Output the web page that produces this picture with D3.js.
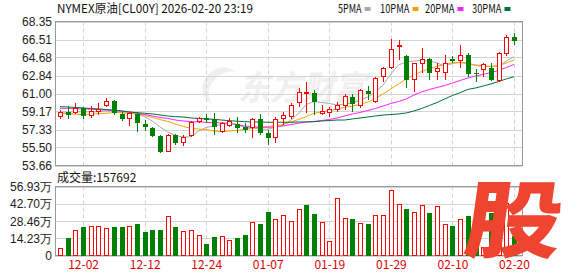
<!DOCTYPE html>
<html>
<head>
<meta charset="utf-8">
<script src="https://cdn.jsdelivr.net/npm/d3@7"></script>
<style>
  body { margin: 0; background: #fff; }
  svg { display: block; }
  text { font-family: "Liberation Sans", Arial, sans-serif; }
  .cjk { font-family: "SimSun", "Noto Sans CJK SC", sans-serif; }
</style>
</head>
<body>
<svg id="chart" width="578" height="276"></svg>
<script>
// trading days shown
const dates = ["11-26","11-28","12-01","12-02","12-03","12-04","12-05","12-08","12-09","12-10",
  "12-11","12-12","12-15","12-16","12-17","12-18","12-19","12-22","12-23","12-24",
  "12-26","12-29","12-30","12-31","01-02","01-05","01-06","01-07","01-08","01-09",
  "01-12","01-13","01-14","01-15","01-16","01-19","01-20","01-21","01-22","01-23",
  "01-26","01-27","01-28","01-29","01-30","02-02","02-03","02-04","02-05","02-06",
  "02-09","02-10","02-11","02-12","02-13","02-16","02-17","02-18","02-19","02-20"];

const open = [58.64,59.15,59.09,59.50,58.81,59.12,59.80,60.27,58.92,58.44,
  58.92,57.89,57.46,56.67,55.07,56.77,55.99,56.74,58.13,58.48,
  58.37,57.11,57.79,57.89,57.56,57.56,58.37,57.01,56.54,58.48,
  58.64,60.11,61.09,61.03,58.99,59.05,59.39,59.73,60.68,59.73,
  61.26,60.17,62.72,63.68,65.76,64.83,62.46,64.02,64.50,63.23,
  63.13,64.50,64.35,64.93,63.13,63.48,63.58,62.31,65.04,66.74];
const high = [59.32,59.73,60.01,59.66,59.73,60.01,60.52,60.34,59.09,59.09,
  59.15,58.30,57.62,56.77,56.87,56.87,56.77,58.20,58.64,58.91,
  58.99,58.13,58.48,58.64,57.97,58.48,58.91,57.28,58.64,59.15,
  60.01,61.54,62.21,61.36,59.83,59.60,60.17,60.96,60.96,61.44,
  61.77,62.72,63.68,66.54,66.47,64.93,64.15,65.62,64.60,64.09,
  64.93,64.83,65.93,65.10,63.48,64.09,64.09,65.27,66.97,67.15];
const low = [58.37,58.37,58.88,58.40,58.48,58.81,59.66,58.81,58.23,57.72,
  57.11,57.18,56.54,54.97,55.04,55.75,55.68,56.60,57.97,57.97,
  56.74,56.95,57.62,56.95,56.95,56.44,56.77,55.75,55.99,57.79,
  58.37,59.66,58.99,58.81,58.81,58.64,59.15,59.32,59.15,59.50,
  60.34,60.07,62.21,63.48,64.42,61.54,61.19,63.07,62.38,62.38,
  62.38,64.09,63.58,62.72,62.21,62.72,62.31,62.21,64.83,65.96];
const close = [59.09,58.78,59.43,58.74,59.15,59.40,60.14,58.99,58.40,58.99,
  57.97,57.62,56.67,55.07,56.77,55.99,56.54,58.07,58.48,58.30,
  57.56,57.97,58.13,57.46,57.28,58.37,57.01,56.50,58.37,58.81,
  59.83,61.09,61.09,60.11,59.15,59.39,59.83,60.68,59.94,61.29,
  60.92,62.56,63.58,65.52,65.86,62.38,64.02,64.50,63.13,63.58,
  64.09,64.35,64.93,63.00,63.00,63.92,62.38,65.04,66.74,66.39];

// volume, in 万 (10k) contracts
const volume = [6.1,14.4,20.8,23.6,24.2,24.2,22.2,23.6,23.6,23.6,
  25.8,19.4,20.8,20.8,32.5,23.6,20.0,20.8,16.7,9.2,
  15.3,15.8,12.5,14.4,16.7,27.2,26.4,35.8,30.0,33.3,
  27.8,38.3,41.7,34.2,27.2,11.7,47.2,30.6,30.0,26.4,
  25.6,32.8,32.8,53.3,42.2,38.3,35.6,41.1,34.7,40.3,
  25.6,24.2,29.7,32.5,28.0,6.4,34.7,38.0,43.1,15.7692];

// moving averages
const ma5 = [59.12,59.09,59.15,59.15,59.12,59.15,59.22,59.17,59.12,59.09,
  58.92,58.64,58.20,57.59,57.08,56.72,56.57,56.60,57.18,57.54,
  57.69,57.84,57.97,57.79,57.56,57.49,57.38,57.35,57.59,57.79,
  58.30,58.97,59.89,60.17,60.09,59.99,59.83,59.94,60.04,60.34,
  60.65,61.16,61.88,63.00,63.92,64.22,64.32,64.38,64.32,64.12,
  63.81,64.07,64.22,64.07,63.92,63.86,63.76,63.81,64.32,64.76];
const ma10 = [58.99,58.94,58.89,58.84,58.89,58.96,58.99,59.05,59.05,58.99,
  58.92,58.76,58.56,58.35,58.15,57.90,57.64,57.46,57.38,57.33,
  57.18,57.11,57.18,57.23,57.33,57.46,57.56,57.64,57.74,57.84,
  58.10,58.35,58.66,58.99,59.12,59.25,59.43,59.60,59.73,59.89,
  60.14,60.50,60.96,61.47,61.98,62.49,62.90,63.25,63.51,63.76,
  63.97,64.12,64.15,64.07,63.86,63.76,63.76,63.86,64.12,64.43];
const ma20 = [59.50,59.48,59.45,59.43,59.40,59.35,59.32,59.27,59.22,59.12,
  59.02,58.86,58.71,58.56,58.46,58.30,58.20,58.13,58.10,58.07,
  58.03,58.00,57.97,57.84,57.69,57.62,57.56,57.56,57.59,57.69,
  57.84,57.97,58.10,58.15,58.25,58.35,58.51,58.71,58.92,59.07,
  59.27,59.48,59.73,59.99,60.19,60.45,60.85,61.16,61.42,61.62,
  61.82,62.08,62.33,62.59,62.79,62.95,63.15,63.35,63.66,63.97];
const ma30 = [59.66,59.63,59.58,59.53,59.48,59.43,59.37,59.32,59.22,59.12,
  59.05,58.99,58.92,58.81,58.71,58.64,58.61,58.51,58.46,58.41,
  58.37,58.30,58.23,58.18,58.13,58.10,58.10,58.07,58.07,58.07,
  58.07,58.10,58.10,58.13,58.20,58.25,58.30,58.30,58.41,58.51,
  58.61,58.71,58.81,58.86,58.92,59.02,59.22,59.48,59.78,60.09,
  60.45,60.80,61.09,61.42,61.57,61.77,61.98,62.23,62.49,62.72];

const priceTicks = [68.35,66.51,64.68,62.84,61.00,59.17,57.33,55.50,53.66];
const volTicks = [0,14.23,28.46,42.70,56.93];
const dateTicks = ["12-02","12-12","12-24","01-07","01-19","01-29","02-10","02-20"];

const maSeries = [
  { name: "5PMA", values: ma5, color: "#aaaaaa" },
  { name: "10PMA", values: ma10, color: "#f5a300" },
  { name: "20PMA", values: ma20, color: "#ff22ff" },
  { name: "30PMA", values: ma30, color: "#006f3c" }
];

const UP = "#ff0000", DOWN = "#008000", GRID = "#d4d4d4", FRAME = "#999";

const svg = d3.select("#chart");
const left = 55, right = 522;
const priceTop = 21.5, priceBottom = 165.5;
const volTop = 186.5, volBottom = 255.5;

const x = d3.scalePoint().domain(dates).range([60, 514]);
const y = d3.scaleLinear().domain([53.66, 68.35]).range([priceBottom, priceTop]);
const yv = d3.scaleLinear().domain([0, 56.93]).range([volBottom, volTop]);

// flat bars (open == close) draw a red cross but a green volume bar
const bars = dates.map((d, i) => ({
  date: d, o: open[i], h: high[i], l: low[i], c: close[i], v: volume[i],
  up: close[i] >= open[i],
  volUp: close[i] > open[i]
}));

// watermark
const wm = svg.append("g");
wm.append("path")
  .attr("d", "M214,70 C200,78 198,96 212,104 C206,94 208,82 222,74 C230,70 236,72 236,72 C228,66 220,66 214,70 Z")
  .attr("fill", "#efefef");
wm.append("text").attr("class", "cjk")
  .attr("x", 238).attr("y", 100)
  .attr("font-size", 34).attr("font-weight", "bold").attr("font-style", "italic")
  .attr("fill", "#efefef")
  .attr("textLength", 128).attr("lengthAdjust", "spacingAndGlyphs")
  .text("东方财富");

// horizontal grids
svg.append("g").selectAll("line").data(priceTicks)
  .join("line")
  .attr("x1", left).attr("x2", right)
  .attr("y1", d => Math.round(y(d)) + 0.5).attr("y2", d => Math.round(y(d)) + 0.5)
  .attr("stroke", GRID);

svg.append("g").selectAll("line").data(volTicks)
  .join("line")
  .attr("x1", left).attr("x2", right)
  .attr("y1", d => Math.round(yv(d)) + 0.5).attr("y2", d => Math.round(yv(d)) + 0.5)
  .attr("stroke", GRID);

// vertical dashed grids
[[priceTop, priceBottom], [volTop, volBottom]].forEach(([t, b]) => {
  svg.append("g").selectAll("line").data(dateTicks)
    .join("line")
    .attr("x1", d => Math.round(x(d)) + 0.5).attr("x2", d => Math.round(x(d)) + 0.5)
    .attr("y1", t).attr("y2", b)
    .attr("stroke", GRID).attr("stroke-dasharray", "4,3");
});

// frames
svg.append("rect").attr("x", left + 0.5).attr("y", priceTop).attr("width", right - left).attr("height", priceBottom - priceTop)
  .attr("fill", "none").attr("stroke", FRAME);
svg.append("rect").attr("x", left + 0.5).attr("y", volTop).attr("width", right - left).attr("height", volBottom - volTop)
  .attr("fill", "none").attr("stroke", FRAME);

// MA lines
const line = d3.line().x((d, i) => x(dates[i])).y(d => y(d));
svg.append("g").selectAll("path").data(maSeries)
  .join("path")
  .attr("d", d => line(d.values))
  .attr("fill", "none")
  .attr("stroke", d => d.color)
  .attr("stroke-width", 1);

// candles
const cg = svg.append("g").attr("shape-rendering", "crispEdges");
const candle = cg.selectAll("g").data(bars).join("g")
  .attr("transform", d => `translate(${Math.round(x(d.date))},0)`);

candle.append("line")
  .attr("x1", 0.5).attr("x2", 0.5)
  .attr("y1", d => y(d.h)).attr("y2", d => y(Math.max(d.o, d.c)))
  .attr("stroke", d => d.up ? UP : DOWN);
candle.append("line")
  .attr("x1", 0.5).attr("x2", 0.5)
  .attr("y1", d => y(Math.min(d.o, d.c))).attr("y2", d => y(d.l))
  .attr("stroke", d => d.up ? UP : DOWN);
candle.append("rect")
  .attr("x", d => d.up ? -1.5 : -2)
  .attr("width", d => d.up ? 4 : 5)
  .attr("y", d => y(Math.max(d.o, d.c)))
  .attr("height", d => Math.max(1, y(Math.min(d.o, d.c)) - y(Math.max(d.o, d.c))))
  .attr("fill", d => d.up ? "#fff" : DOWN)
  .attr("stroke", d => d.up ? UP : "none");

// volume bars
svg.append("g").attr("shape-rendering", "crispEdges")
  .selectAll("rect").data(bars).join("rect")
  .attr("x", d => Math.round(x(d.date)) + (d.volUp ? -1.5 : -2))
  .attr("width", d => d.volUp ? 4 : 5)
  .attr("y", d => yv(d.v))
  .attr("height", d => yv(0) - yv(d.v))
  .attr("fill", d => d.volUp ? "#fff" : DOWN)
  .attr("stroke", d => d.volUp ? UP : "none");

// axis labels
svg.append("g").selectAll("text").data(priceTicks)
  .join("text")
  .attr("x", 52).attr("y", d => y(d) + 4.5)
  .attr("text-anchor", "end").attr("font-size", 12).attr("fill", "#222")
  .text(d => d.toFixed(2));

svg.append("g").selectAll("text").data(volTicks)
  .join("text")
  .attr("x", 52).attr("y", d => yv(d) + 4.5)
  .attr("text-anchor", "end").attr("font-size", 12).attr("fill", "#222")
  .text(d => d === 0 ? "0" : d.toFixed(2) + "万");

svg.append("g").selectAll("text").data(dateTicks)
  .join("text").attr("class", "cjk")
  .attr("x", d => x(d) + 0.5).attr("y", 269)
  .attr("text-anchor", "middle").attr("font-size", 12).attr("fill", "#e00000")
  .text(d => d);

// header
svg.append("text").attr("class", "cjk")
  .attr("x", 57).attr("y", 13).attr("font-size", 12).attr("fill", "#111")
  .attr("textLength", 196).attr("lengthAdjust", "spacingAndGlyphs")
  .text("NYMEX原油[CL00Y] 2026-02-20 23:19");

// legend
const legendX = [338, 380, 425, 472];
const lg = svg.append("g").selectAll("g").data(maSeries).join("g")
  .attr("transform", (d, i) => `translate(${legendX[i]},0)`);
lg.append("text").attr("class", "cjk")
  .attr("y", 13).attr("font-size", 12).attr("fill", "#111")
  .attr("textLength", (d) => d.name.length * 5.9).attr("lengthAdjust", "spacingAndGlyphs")
  .text(d => d.name);
lg.append("rect")
  .attr("x", d => d.name.length * 5.9 + 3).attr("y", 7)
  .attr("width", 6).attr("height", 4)
  .attr("fill", d => d.color);

// volume caption
svg.append("text").attr("class", "cjk")
  .attr("x", 57).attr("y", 182).attr("font-size", 12).attr("fill", "#111")
  .text("成交量:" + Math.round(volume[volume.length - 1] * 10000));

// app badge
svg.append("text").attr("class", "cjk")
  .attr("text-anchor", "middle")
  .attr("font-size", 84).attr("font-weight", 900)
  .attr("fill", "#ef4530")
  .attr("transform", "translate(510,251) skewX(-8) scale(1.15,1)")
  .text("股");
</script>
</body>
</html>
